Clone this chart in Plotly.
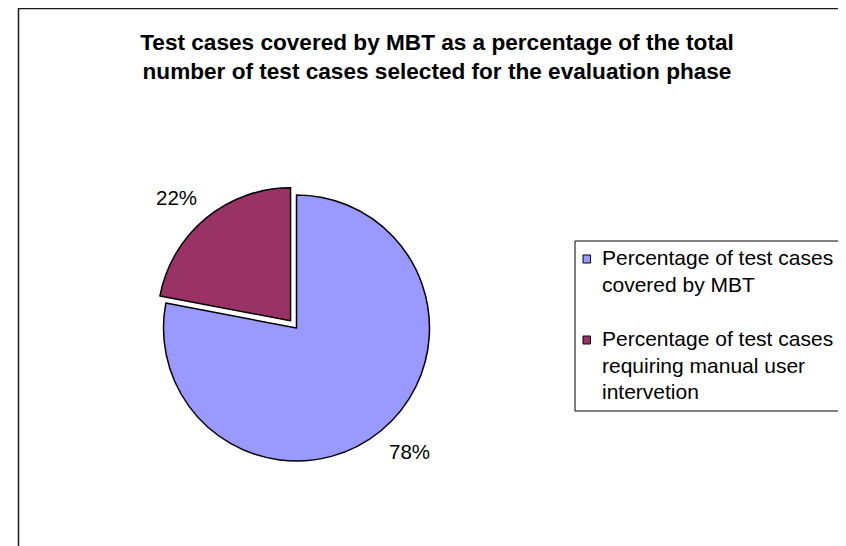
import math
import plotly.graph_objects as go

# ---- data ----
categories = ["Percentage of test cases covered by MBT",
              "Percentage of test cases requiring manual user intervetion"]
values = [78, 22]
legend_lines = [["Percentage of test cases", "covered by MBT"],
                ["Percentage of test cases", "requiring manual user", "intervetion"]]
title_lines = ["Test cases covered by MBT as a percentage of the total",
               "number of test cases selected for the evaluation phase"]

# ---- style ----
colors = ["#9999FF", "#993366"]
pulls = [0, 0.07]
FONT = "Liberation Sans, Arial, sans-serif"

W, H = 846, 546
OFF = 8  # page body margin of the html page


def px(x):
    return (x - OFF) / W


def py(y):
    return 1 - (y - OFF) / H


cx, cy, r = 296.5, 328, 133
half = r * (1 + max(pulls))

fig = go.Figure(go.Pie(
    labels=categories, values=values, sort=False, direction="clockwise", rotation=0,
    pull=pulls,
    marker=dict(colors=colors, line=dict(color="black", width=1.5)),
    textinfo="none",
    domain=dict(x=[px(cx - half), px(cx + half)],
                y=[py(cy + half), py(cy - half)]),
    hoverinfo="label+percent",
    showlegend=False,
))

annotations = []
# percentage labels, placed outside each slice near its bisector
total = sum(values)
cum = 0
label_dist = 1.26
label_rot = math.radians(-3)
for v, p in zip(values, pulls):
    mid = (cum + v / 2) / total * 2 * math.pi + label_rot
    cum += v
    sx, sy = math.sin(mid), math.cos(mid)
    dist = r * (label_dist + p)
    annotations.append(dict(
        x=px(cx + dist * sx), y=py(cy - dist * sy), xref="paper", yref="paper",
        text=f"{round(100 * v / total)}%", showarrow=False,
        xanchor="center", yanchor="middle",
        font=dict(family=FONT, size=20.5, color="black")))

# legend (drawn as text lines + swatches inside a box)
leg_left, leg_top, leg_bottom = 575, 241, 411
text_x = 600
baselines = [[265, 291.5], [346, 372.5, 399]]
fs = 21
shapes = [
    dict(type="rect", xref="paper", yref="paper",
         x0=px(18.5), x1=1.1, y0=-0.1, y1=py(8.5),
         line=dict(color="#1a1a1a", width=1.5)),
    dict(type="rect", xref="paper", yref="paper",
         x0=px(leg_left), x1=1.1, y0=py(leg_bottom), y1=py(leg_top),
         line=dict(color="black", width=1)),
]
for lines, bls, col in zip(legend_lines, baselines, colors):
    sq_c = bls[0] - 6
    shapes.append(dict(type="rect", xref="paper", yref="paper",
                       x0=px(583), x1=px(590.5), y0=py(sq_c + 4), y1=py(sq_c - 4),
                       fillcolor=col, line=dict(color="black", width=1)))
    for line, bl in zip(lines, bls):
        annotations.append(dict(
            x=px(text_x), y=py(bl - 7.3), xref="paper", yref="paper",
            text=line, showarrow=False, xanchor="left", yanchor="middle",
            font=dict(family=FONT, size=fs, color="black")))

fig.update_layout(
    width=W, height=H,
    margin=dict(l=0, r=0, t=0, b=0),
    paper_bgcolor="white", plot_bgcolor="white",
    font=dict(family=FONT, color="black"),
    title=dict(text="<br>".join(title_lines), x=px(437), xanchor="center", xref="paper",
               y=py(50), yanchor="top", yref="container",
               font=dict(family=FONT, size=22.6, color="black", weight="bold")),
    showlegend=False,
    shapes=shapes,
    annotations=annotations,
)

fig.write_html("out.html")
